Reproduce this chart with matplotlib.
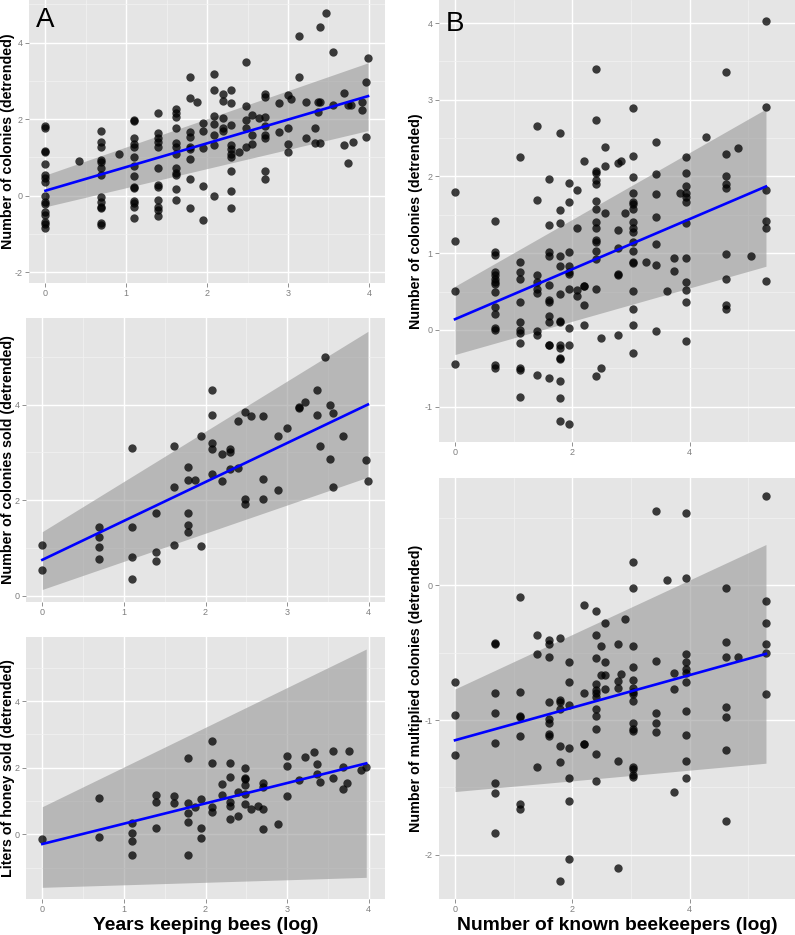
import matplotlib
matplotlib.use("Agg")
import matplotlib.pyplot as plt
from matplotlib.ticker import MultipleLocator

plt.rcParams['font.family'] = ['Liberation Sans', 'DejaVu Sans']
plt.rcParams['axes.unicode_minus'] = False

# ---------------- data ----------------
# Panel A1: years keeping bees (log) vs number of colonies (detrended)
a1_groups = [
    (0.00, [1.82, 1.78, 1.17, 1.15, 0.84, 0.54, 0.45, 0.37, 0.0, -0.17, -0.22, -0.42, -0.5, -0.68, -0.74, -0.85]),
    (0.41, [0.9]),
    (0.69, [1.70, 1.41, 1.28, 0.93, 0.89, 0.71, 0.54, -0.03, -0.16, -0.29, -0.33, -0.72, -0.77]),
    (0.91, [1.09]),
    (1.10, [1.98, 1.95, 1.50, 1.34, 1.28, 1.02, 0.78, 0.51, 0.23, 0.19, -0.14, -0.2, -0.29, -0.57]),
    (1.39, [2.15, 1.65, 1.50, 1.39, 1.28, 0.71, 0.28, 0.22, -0.1, -0.29, -0.37, -0.52]),
    (1.61, [2.26, 2.15, 2.05, 1.76, 1.37, 1.28, 1.1, 0.71, 0.58, 0.54, 0.17, -0.1]),
    (1.79, [3.09, 2.56, 1.67, 1.52, 1.28, 1.21, 0.95, 0.44, -0.33]),
    (1.87, [2.44]),
    (1.95, [1.89, 1.69, 1.24, 0.26, -0.64]),
    (2.08, [3.19, 2.76, 2.09, 1.87, 1.58, 1.32, -0.01]),
    (2.20, [2.65, 2.47, 2.02, 1.76, 1.69]),
    (2.30, [2.76, 2.41, 1.85, 1.32, 1.22, 1.09, 1.02, 0.64, 0.13, -0.33]),
    (2.40, [1.15]),
    (2.48, [3.5, 2.34, 1.98, 1.78, 1.28]),
    (2.56, [2.12, 1.58, 1.35]),
    (2.64, [2.02]),
    (2.71, [2.65, 2.58, 2.06, 1.82, 1.58, 1.5, 0.65, 0.44]),
    (2.89, [2.43, 1.67]),
    (3.00, [2.63, 1.76, 1.35, 1.15]),
    (3.04, [2.52]),
    (3.14, [4.17, 3.11]),
    (3.22, [2.45, 1.5]),
    (3.33, [1.76, 1.38]),
    (3.37, [2.45, 2.18]),
    (3.40, [4.41, 2.45, 1.38]),
    (3.47, [4.78]),
    (3.56, [3.76, 2.37]),
    (3.69, [2.67, 1.32]),
    (3.74, [2.37, 0.86]),
    (3.78, [2.37]),
    (3.81, [1.39]),
    (3.91, [2.45, 2.25]),
    (3.97, [2.98, 1.54]),
    (3.99, [3.59]),
]
a1_fit_x = [0.0, 3.99]
a1_fit_y = [0.13, 2.60]
a1_fit_lo = [-0.29, 1.70]
a1_fit_hi = [0.54, 3.47]

# Panel A2: years keeping bees (log) vs number of colonies sold (detrended)
a2_groups = [
    (0.00, [1.05, 0.54]),
    (0.69, [1.44, 1.22, 1.01, 0.77]),
    (1.10, [3.08, 1.44, 0.8, 0.35]),
    (1.39, [1.74, 0.92, 0.72]),
    (1.61, [3.13, 2.27, 1.05]),
    (1.79, [2.7, 2.42, 1.74, 1.47, 1.33]),
    (1.87, [2.42]),
    (1.95, [3.34, 1.04]),
    (2.08, [4.31, 3.78, 3.19, 3.07, 2.55]),
    (2.20, [2.96, 2.4]),
    (2.30, [3.07, 3.01, 2.65]),
    (2.40, [3.66, 2.67]),
    (2.48, [3.84, 2.02, 1.92]),
    (2.56, [3.75]),
    (2.71, [3.75, 2.44, 2.02]),
    (2.89, [3.34, 2.21]),
    (3.00, [3.5]),
    (3.14, [3.94, 3.92]),
    (3.22, [4.05]),
    (3.37, [4.31, 3.77]),
    (3.40, [3.13]),
    (3.47, [5.0]),
    (3.53, [3.99, 2.85]),
    (3.56, [3.82, 2.27]),
    (3.69, [3.34]),
    (3.97, [2.84]),
    (3.99, [2.39]),
]
a2_fit_x = [0.0, 3.99]
a2_fit_y = [0.75, 4.00]
a2_fit_lo = [0.13, 2.48]
a2_fit_hi = [1.34, 5.53]

# Panel A3: years keeping bees (log) vs liters of honey sold (detrended)
a3_groups = [
    (0.00, [-0.13]),
    (0.69, [1.08, -0.09]),
    (1.10, [0.35, 0.03, -0.19, -0.62]),
    (1.39, [1.18, 0.96, 0.2]),
    (1.61, [1.15, 0.93]),
    (1.79, [2.28, 0.95, 0.65, 0.38, -0.62]),
    (1.87, [0.83]),
    (1.95, [1.05, 0.18, -0.1]),
    (2.08, [2.81, 2.15, 0.83, 0.68]),
    (2.20, [1.51, 1.18]),
    (2.30, [2.13, 1.73, 0.98, 0.86, 0.46]),
    (2.40, [1.26, 0.55]),
    (2.48, [1.98, 1.7, 1.66, 1.48, 1.2, 0.91]),
    (2.56, [0.75]),
    (2.64, [0.85]),
    (2.71, [1.53, 1.41, 0.75, 0.16]),
    (2.89, [0.3]),
    (3.00, [2.35, 2.05, 1.16]),
    (3.14, [1.63]),
    (3.22, [2.33]),
    (3.33, [2.46]),
    (3.37, [2.11, 1.8]),
    (3.40, [1.58]),
    (3.56, [2.5, 1.7]),
    (3.69, [2.03, 1.36]),
    (3.74, [1.53]),
    (3.76, [2.51]),
    (3.91, [1.93]),
    (3.97, [2.03]),
]
a3_fit_x = [0.0, 3.97]
a3_fit_y = [-0.29, 2.13]
a3_fit_lo = [-1.59, -1.29]
a3_fit_hi = [0.83, 5.56]

# Panel B1: number of known beekeepers (log) vs number of colonies (detrended)
b1_groups = [
    (0.00, [1.80, 1.16, 0.51, -0.45]),
    (0.69, [1.42, 1.02, 0.98, 0.76, 0.72, 0.67, 0.63, 0.6, 0.5, 0.3, 0.21, 0.03, 0.0, -0.46, -0.5]),
    (1.10, [2.25, 0.88, 0.76, 0.67, 0.37, 0.1, 0.0, -0.04, -0.17, -0.49, -0.52, -0.88]),
    (1.39, [2.66, 1.70, 0.72, 0.62, 0.54, 0.48, -0.02, -0.06, -0.59]),
    (1.61, [1.97, 1.37, 1.01, 0.96, 0.59, 0.39, 0.37, 0.18, 0.1, -0.19, -0.2, -0.63]),
    (1.79, [2.57, 1.56, 1.39, 0.97, 0.84, 0.47, 0.12, 0.1, -0.2, -0.24, -0.36, -0.38, -0.67, -0.89, -1.19]),
    (1.95, [1.92, 1.67, 1.01, 0.84, 0.75, 0.73, 0.53, 0.03, -0.19, -1.22]),
    (2.08, [1.83, 1.33, 0.52, 0.44]),
    (2.20, [2.2, 0.57, 0.57, 0.32, 0.06]),
    (2.40, [3.4, 2.74, 2.07, 2.05, 1.96, 1.9, 1.68, 1.57, 1.41, 1.33, 1.17, 1.14, 1.03, 0.93, 0.53, -0.6]),
    (2.48, [-0.11, -0.49]),
    (2.56, [2.39, 2.14, 1.52]),
    (2.77, [2.17, 1.3, 1.07, 0.73, 0.72, -0.07]),
    (2.83, [2.2]),
    (2.89, [1.53]),
    (3.04, [2.89, 2.27, 1.99, 1.79, 1.67, 1.64, 1.57, 1.41, 1.33, 1.28, 1.14, 1.03, 0.89, 0.87, 0.51, 0.27, 0.07, -0.3]),
    (3.26, [0.88]),
    (3.43, [2.45, 2.03, 1.77, 1.47, 1.12, 0.85, -0.01]),
    (3.61, [0.51]),
    (3.74, [0.94, 0.77]),
    (3.83, [1.78]),
    (3.93, [2.26, 2.04, 1.87, 1.79, 1.73, 1.67, 1.4, 0.94, 0.62, 0.52, 0.36, -0.14]),
    (4.28, [2.51]),
    (4.62, [3.36, 2.29, 2.0, 1.9, 1.85, 0.99, 0.67, 0.33, 0.27]),
    (4.82, [2.37]),
    (5.05, [0.97]),
    (5.30, [4.03, 2.91, 1.82, 1.42, 1.33, 0.64]),
]
b1_fit_x = [0.0, 5.3]
b1_fit_y = [0.14, 1.87]
b1_fit_lo = [-0.32, 0.83]
b1_fit_hi = [0.57, 2.88]

# Panel B2: number of known beekeepers (log) vs number of multiplied colonies (detrended)
b2_groups = [
    (0.00, [-0.72, -0.96, -1.26]),
    (0.69, [-0.43, -0.44, -0.8, -0.95, -1.17, -1.47, -1.54, -1.84]),
    (1.10, [-0.09, -0.79, -0.97, -0.98, -1.12, -1.62, -1.66]),
    (1.39, [-0.37, -0.51, -1.35]),
    (1.61, [-0.41, -0.44, -0.53, -0.87, -0.99, -1.02, -1.1, -1.12]),
    (1.79, [-0.39, -0.85, -0.87, -0.92, -1.19, -1.31, -2.19]),
    (1.95, [-0.57, -0.72, -0.89, -1.21, -1.43, -1.6, -2.03]),
    (2.20, [-0.15, -0.8, -1.18, -1.18]),
    (2.40, [-0.19, -0.37, -0.54, -0.73, -0.78, -0.8, -0.83, -0.92, -0.97, -1.07, -1.25, -1.45]),
    (2.48, [-0.45, -0.67]),
    (2.56, [-0.28, -0.57, -0.67, -0.77]),
    (2.77, [-0.44, -0.71, -0.76, -1.3, -2.1]),
    (2.83, [-0.66]),
    (2.89, [-0.25]),
    (3.04, [0.17, -0.02, -0.45, -0.61, -0.7, -0.76, -0.79, -0.81, -0.86, -1.02, -1.07, -1.08, -1.35, -1.36, -1.41, -1.42]),
    (3.43, [0.55, -0.56, -0.95, -1.02, -1.09]),
    (3.61, [0.04]),
    (3.74, [-0.65, -0.77, -1.53]),
    (3.93, [0.53, 0.05, -0.51, -0.57, -0.62, -0.65, -0.72, -0.93, -1.11, -1.3, -1.43]),
    (4.62, [-0.02, -0.42, -0.53, -0.9, -0.98, -1.22, -1.75]),
    (4.82, [-0.53]),
    (5.30, [0.66, -0.12, -0.28, -0.44, -0.5, -0.81]),
]
b2_fit_x = [0.0, 5.3]
b2_fit_y = [-1.15, -0.51]
b2_fit_lo = [-1.53, -1.32]
b2_fit_hi = [-0.77, 0.30]

# ---------------- figure ----------------
W, H = 795, 935
fig = plt.figure(figsize=(W / 100, H / 100), dpi=100)


def px_axes(left, top, right, bottom):
    return fig.add_axes([left / W, 1 - bottom / H, (right - left) / W, (bottom - top) / H])


def panel(ax, groups, fx, fy, flo, fhi, xlim, ylim, xmaj, xmin, ymaj, ymin):
    ax.set_facecolor('#E5E5E5')
    for s in ax.spines.values():
        s.set_visible(False)
    ax.set_xlim(*xlim)
    ax.set_ylim(*ylim)
    ax.xaxis.set_major_locator(MultipleLocator(xmaj))
    ax.xaxis.set_minor_locator(MultipleLocator(xmin))
    ax.yaxis.set_major_locator(MultipleLocator(ymaj))
    ax.yaxis.set_minor_locator(MultipleLocator(ymin))
    ax.grid(True, which='major', color='white', linewidth=1.0)
    ax.grid(True, which='minor', color='#F2F2F2', linewidth=0.5)
    ax.set_axisbelow(True)
    ax.tick_params(which='major', length=3, width=0.6, color='#7F7F7F',
                   labelcolor='#7F7F7F', labelsize=6.5, pad=1.5)
    ax.tick_params(which='minor', length=0)
    xs = [gx for gx, ys in groups for _ in ys]
    ys = [y for gx, yv in groups for y in yv]
    ax.fill_between(fx, flo, fhi, color='#999999', alpha=0.6, linewidth=0, zorder=2)
    ax.scatter(xs, ys, s=36, color='black', alpha=0.75, linewidths=0, zorder=3)
    ax.plot(fx, fy, color='#0000FF', linewidth=1.9, zorder=4)


axA1 = px_axes(29.3, 0, 385, 283)
panel(axA1, a1_groups, a1_fit_x, a1_fit_y, a1_fit_lo, a1_fit_hi,
      (-0.2, 4.2), (-2.28, 5.11), 1, 0.5, 2, 1)

axA2 = px_axes(26, 318, 385, 601.7)
panel(axA2, a2_groups, a2_fit_x, a2_fit_y, a2_fit_lo, a2_fit_hi,
      (-0.2, 4.2), (-0.126, 5.81), 1, 0.5, 2, 1)

axA3 = px_axes(26, 636.7, 385, 899)
panel(axA3, a3_groups, a3_fit_x, a3_fit_y, a3_fit_lo, a3_fit_hi,
      (-0.2, 4.2), (-1.94, 5.93), 1, 0.5, 2, 1)

axB1 = px_axes(439, 0, 795, 442)
panel(axB1, b1_groups, b1_fit_x, b1_fit_y, b1_fit_lo, b1_fit_hi,
      (-0.273, 5.795), (-1.46, 4.30), 2, 1, 1, 0.5)

axB2 = px_axes(439, 477.7, 795, 899)
panel(axB2, b2_groups, b2_fit_x, b2_fit_y, b2_fit_lo, b2_fit_hi,
      (-0.273, 5.795), (-2.326, 0.795), 2, 1, 1, 0.5)


def ftext(x, y, s, **kw):
    fig.text(x / W, 1 - y / H, s, **kw)


ylab_kw = dict(rotation=90, ha='center', va='center', fontsize=10.3, fontweight='bold')
ftext(8.5, 141.5, 'Number of colonies (detrended)', **ylab_kw)
ftext(8.5, 460, 'Number of colonies sold (detrended)', **ylab_kw)
ftext(8.5, 768, 'Liters of honey sold (detrended)', **ylab_kw)
ftext(416, 221, 'Number of colonies (detrended)', **ylab_kw)
ftext(416, 688, 'Number of multiplied colonies (detrended)', **ylab_kw)

xlab_kw = dict(ha='center', va='baseline', fontsize=13.9, fontweight='bold')
ftext(205.5, 930.5, 'Years keeping bees (log)', **xlab_kw)
ftext(617, 930.5, 'Number of known beekeepers (log)', **xlab_kw)

ftext(45.5, 20, 'A', ha='center', va='center', fontsize=20)
ftext(455, 24, 'B', ha='center', va='center', fontsize=20)

fig.savefig('out.png', dpi=100)
